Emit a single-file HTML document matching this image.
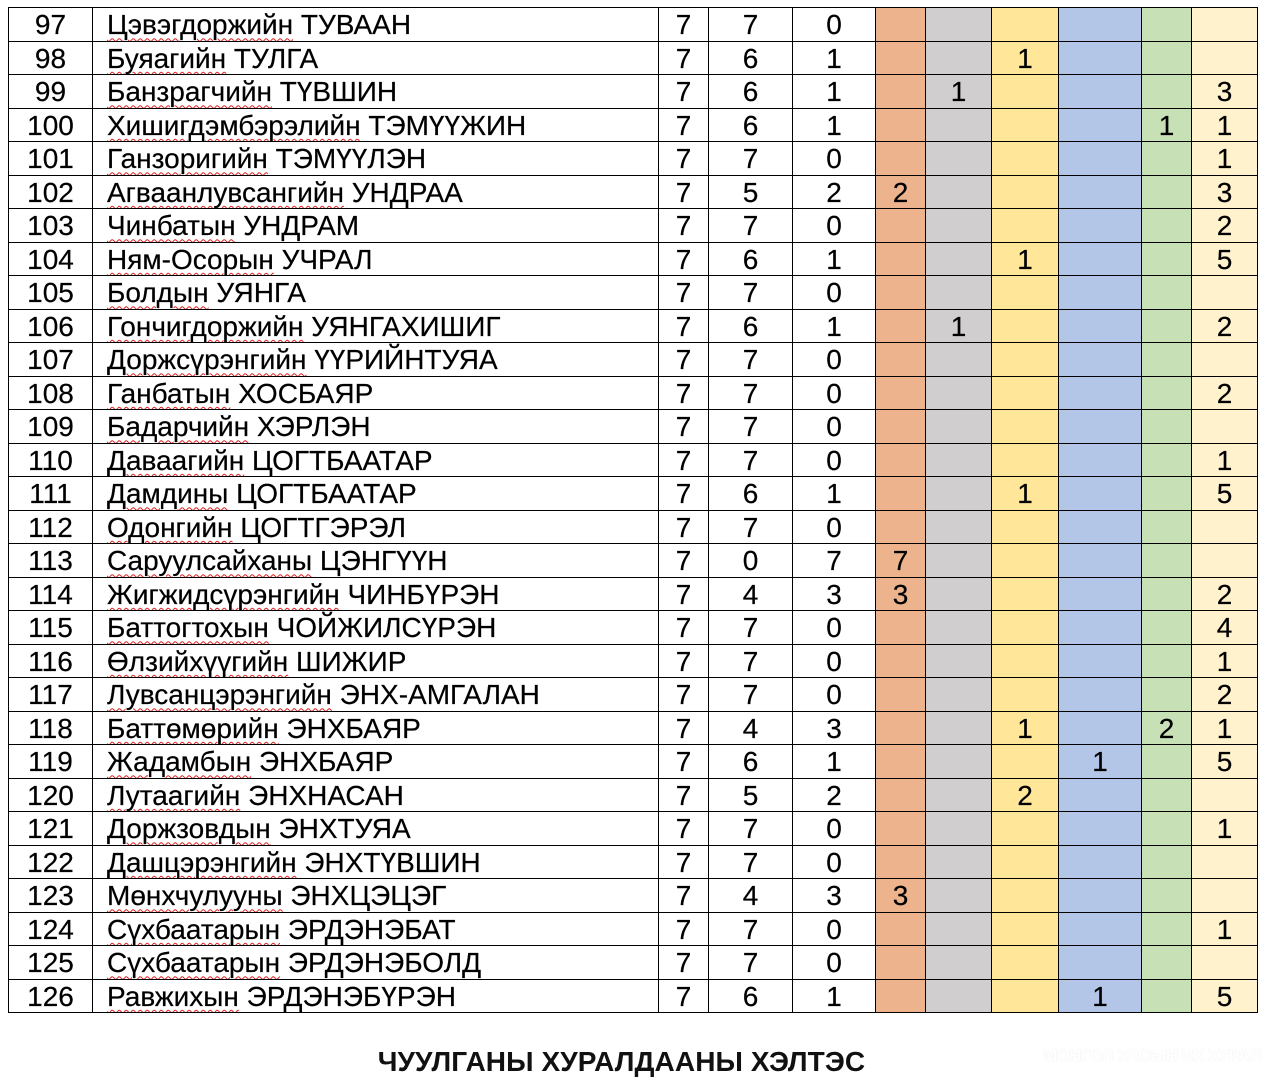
<!DOCTYPE html>
<html><head><meta charset="utf-8">
<style>
html,body{margin:0;padding:0;background:#fff;}
body{width:1263px;height:1077px;position:relative;overflow:hidden;font-family:"Liberation Sans",Arial,sans-serif;}
table{position:absolute;left:8px;top:7px;border-collapse:collapse;table-layout:fixed;width:1249px;}
td{border:1px solid #000;padding:2px 0 0 0;height:30.5px;font-size:28px;line-height:26px;text-align:center;vertical-align:middle;color:#000;white-space:nowrap;overflow:hidden;box-sizing:content-box;-webkit-text-stroke:0.2px #000;}
td.n{text-align:left;padding-left:14px;}
td.n u{text-decoration-line:underline;text-decoration-style:wavy;text-decoration-color:#e02020;text-decoration-thickness:1px;text-underline-offset:3px;}
.o{background:#EDB38C;}
.g{background:#D0CECE;}
.y{background:#FFE699;}
.b{background:#B4C6E7;}
.gr{background:#C8E0B5;}
.ly{background:#FFF2CC;}
.title{position:absolute;left:0;width:1243px;top:1046px;text-align:center;font-weight:bold;font-size:28px;line-height:32px;color:#111;letter-spacing:0.1px;}
.wm{position:absolute;left:1043px;top:1046px;font-weight:bold;font-size:17px;color:#fff;text-shadow:0 0 1px #ddd;letter-spacing:-0.6px;}
</style></head>
<body>
<table>
<colgroup>
<col style="width:84px"><col style="width:566px"><col style="width:50px"><col style="width:84px"><col style="width:83px">
<col style="width:50px"><col style="width:66px"><col style="width:67px"><col style="width:83px"><col style="width:50px"><col style="width:66px">
</colgroup>
<tr><td>97</td><td class="n"><u>Цэвэгдоржийн</u> ТУВААН</td><td>7</td><td>7</td><td>0</td><td class="o"></td><td class="g"></td><td class="y"></td><td class="b"></td><td class="gr"></td><td class="ly"></td></tr>
<tr><td>98</td><td class="n"><u>Буяагийн</u> ТУЛГА</td><td>7</td><td>6</td><td>1</td><td class="o"></td><td class="g"></td><td class="y">1</td><td class="b"></td><td class="gr"></td><td class="ly"></td></tr>
<tr><td>99</td><td class="n"><u>Банзрагчийн</u> ТҮВШИН</td><td>7</td><td>6</td><td>1</td><td class="o"></td><td class="g">1</td><td class="y"></td><td class="b"></td><td class="gr"></td><td class="ly">3</td></tr>
<tr><td>100</td><td class="n"><u>Хишигдэмбэрэлийн</u> ТЭМҮҮЖИН</td><td>7</td><td>6</td><td>1</td><td class="o"></td><td class="g"></td><td class="y"></td><td class="b"></td><td class="gr">1</td><td class="ly">1</td></tr>
<tr><td>101</td><td class="n"><u>Ганзоригийн</u> ТЭМҮҮЛЭН</td><td>7</td><td>7</td><td>0</td><td class="o"></td><td class="g"></td><td class="y"></td><td class="b"></td><td class="gr"></td><td class="ly">1</td></tr>
<tr><td>102</td><td class="n"><u>Агваанлувсангийн</u> УНДРАА</td><td>7</td><td>5</td><td>2</td><td class="o">2</td><td class="g"></td><td class="y"></td><td class="b"></td><td class="gr"></td><td class="ly">3</td></tr>
<tr><td>103</td><td class="n"><u>Чинбатын</u> УНДРАМ</td><td>7</td><td>7</td><td>0</td><td class="o"></td><td class="g"></td><td class="y"></td><td class="b"></td><td class="gr"></td><td class="ly">2</td></tr>
<tr><td>104</td><td class="n"><u>Ням-Осорын</u> УЧРАЛ</td><td>7</td><td>6</td><td>1</td><td class="o"></td><td class="g"></td><td class="y">1</td><td class="b"></td><td class="gr"></td><td class="ly">5</td></tr>
<tr><td>105</td><td class="n"><u>Болдын</u> УЯНГА</td><td>7</td><td>7</td><td>0</td><td class="o"></td><td class="g"></td><td class="y"></td><td class="b"></td><td class="gr"></td><td class="ly"></td></tr>
<tr><td>106</td><td class="n"><u>Гончигдоржийн</u> УЯНГАХИШИГ</td><td>7</td><td>6</td><td>1</td><td class="o"></td><td class="g">1</td><td class="y"></td><td class="b"></td><td class="gr"></td><td class="ly">2</td></tr>
<tr><td>107</td><td class="n"><u>Доржсүрэнгийн</u> ҮҮРИЙНТУЯА</td><td>7</td><td>7</td><td>0</td><td class="o"></td><td class="g"></td><td class="y"></td><td class="b"></td><td class="gr"></td><td class="ly"></td></tr>
<tr><td>108</td><td class="n"><u>Ганбатын</u> ХОСБАЯР</td><td>7</td><td>7</td><td>0</td><td class="o"></td><td class="g"></td><td class="y"></td><td class="b"></td><td class="gr"></td><td class="ly">2</td></tr>
<tr><td>109</td><td class="n"><u>Бадарчийн</u> ХЭРЛЭН</td><td>7</td><td>7</td><td>0</td><td class="o"></td><td class="g"></td><td class="y"></td><td class="b"></td><td class="gr"></td><td class="ly"></td></tr>
<tr><td>110</td><td class="n"><u>Даваагийн</u> ЦОГТБААТАР</td><td>7</td><td>7</td><td>0</td><td class="o"></td><td class="g"></td><td class="y"></td><td class="b"></td><td class="gr"></td><td class="ly">1</td></tr>
<tr><td>111</td><td class="n"><u>Дамдины</u> ЦОГТБААТАР</td><td>7</td><td>6</td><td>1</td><td class="o"></td><td class="g"></td><td class="y">1</td><td class="b"></td><td class="gr"></td><td class="ly">5</td></tr>
<tr><td>112</td><td class="n"><u>Одонгийн</u> ЦОГТГЭРЭЛ</td><td>7</td><td>7</td><td>0</td><td class="o"></td><td class="g"></td><td class="y"></td><td class="b"></td><td class="gr"></td><td class="ly"></td></tr>
<tr><td>113</td><td class="n"><u>Саруулсайханы</u> ЦЭНГҮҮН</td><td>7</td><td>0</td><td>7</td><td class="o">7</td><td class="g"></td><td class="y"></td><td class="b"></td><td class="gr"></td><td class="ly"></td></tr>
<tr><td>114</td><td class="n"><u>Жигжидсүрэнгийн</u> ЧИНБҮРЭН</td><td>7</td><td>4</td><td>3</td><td class="o">3</td><td class="g"></td><td class="y"></td><td class="b"></td><td class="gr"></td><td class="ly">2</td></tr>
<tr><td>115</td><td class="n"><u>Баттогтохын</u> ЧОЙЖИЛСҮРЭН</td><td>7</td><td>7</td><td>0</td><td class="o"></td><td class="g"></td><td class="y"></td><td class="b"></td><td class="gr"></td><td class="ly">4</td></tr>
<tr><td>116</td><td class="n"><u>Өлзийхүүгийн</u> ШИЖИР</td><td>7</td><td>7</td><td>0</td><td class="o"></td><td class="g"></td><td class="y"></td><td class="b"></td><td class="gr"></td><td class="ly">1</td></tr>
<tr><td>117</td><td class="n"><u>Лувсанцэрэнгийн</u> ЭНХ-АМГАЛАН</td><td>7</td><td>7</td><td>0</td><td class="o"></td><td class="g"></td><td class="y"></td><td class="b"></td><td class="gr"></td><td class="ly">2</td></tr>
<tr><td>118</td><td class="n"><u>Баттөмөрийн</u> ЭНХБАЯР</td><td>7</td><td>4</td><td>3</td><td class="o"></td><td class="g"></td><td class="y">1</td><td class="b"></td><td class="gr">2</td><td class="ly">1</td></tr>
<tr><td>119</td><td class="n"><u>Жадамбын</u> ЭНХБАЯР</td><td>7</td><td>6</td><td>1</td><td class="o"></td><td class="g"></td><td class="y"></td><td class="b">1</td><td class="gr"></td><td class="ly">5</td></tr>
<tr><td>120</td><td class="n"><u>Лутаагийн</u> ЭНХНАСАН</td><td>7</td><td>5</td><td>2</td><td class="o"></td><td class="g"></td><td class="y">2</td><td class="b"></td><td class="gr"></td><td class="ly"></td></tr>
<tr><td>121</td><td class="n"><u>Доржзовдын</u> ЭНХТУЯА</td><td>7</td><td>7</td><td>0</td><td class="o"></td><td class="g"></td><td class="y"></td><td class="b"></td><td class="gr"></td><td class="ly">1</td></tr>
<tr><td>122</td><td class="n"><u>Дашцэрэнгийн</u> ЭНХТҮВШИН</td><td>7</td><td>7</td><td>0</td><td class="o"></td><td class="g"></td><td class="y"></td><td class="b"></td><td class="gr"></td><td class="ly"></td></tr>
<tr><td>123</td><td class="n"><u>Мөнхчулууны</u> ЭНХЦЭЦЭГ</td><td>7</td><td>4</td><td>3</td><td class="o">3</td><td class="g"></td><td class="y"></td><td class="b"></td><td class="gr"></td><td class="ly"></td></tr>
<tr><td>124</td><td class="n"><u>Сүхбаатарын</u> ЭРДЭНЭБАТ</td><td>7</td><td>7</td><td>0</td><td class="o"></td><td class="g"></td><td class="y"></td><td class="b"></td><td class="gr"></td><td class="ly">1</td></tr>
<tr><td>125</td><td class="n"><u>Сүхбаатарын</u> ЭРДЭНЭБОЛД</td><td>7</td><td>7</td><td>0</td><td class="o"></td><td class="g"></td><td class="y"></td><td class="b"></td><td class="gr"></td><td class="ly"></td></tr>
<tr><td>126</td><td class="n"><u>Равжихын</u> ЭРДЭНЭБҮРЭН</td><td>7</td><td>6</td><td>1</td><td class="o"></td><td class="g"></td><td class="y"></td><td class="b">1</td><td class="gr"></td><td class="ly">5</td></tr>
</table>
<div class="title">ЧУУЛГАНЫ ХУРАЛДААНЫ ХЭЛТЭС</div>
<div class="wm">МОНГОЛ УЛСЫН ИХ ХУРАЛ</div>
</body></html>
